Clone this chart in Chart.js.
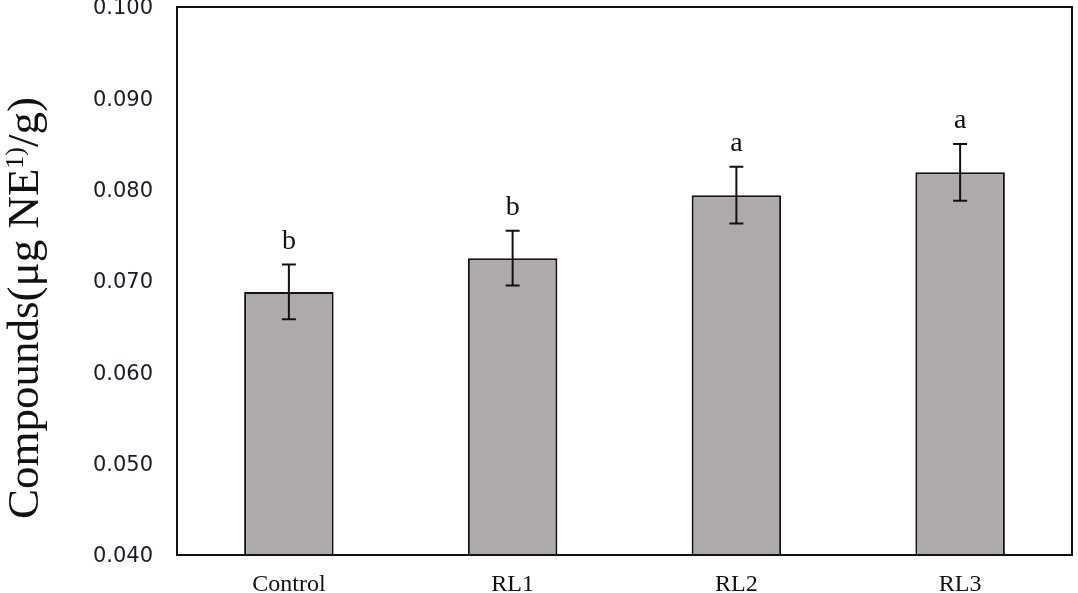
<!DOCTYPE html>
<html>
<head>
<meta charset="utf-8">
<script src="https://cdn.jsdelivr.net/npm/chart.js@4/dist/chart.umd.min.js"></script>
<style>
  html, body { margin: 0; padding: 0; background: #fff; }
  canvas { display: block; }
</style>
</head>
<body>
<canvas id="grafica" width="1078" height="593"></canvas>
<script>
const categorias = ['Control', 'RL1', 'RL2', 'RL3'];
const valores = [0.0688, 0.0725, 0.0794, 0.0819];
const errores = [0.0030, 0.0030, 0.0031, 0.0031];
const letras = ['b', 'b', 'a', 'a'];
const ticksY = [0.040, 0.050, 0.060, 0.070, 0.080, 0.090, 0.100];

// marco del area de trazado
const marcoPlugin = {
    id: 'marco',
    afterDatasetsDraw(chart) {
        const { ctx, chartArea: a } = chart;
        ctx.save();
        ctx.strokeStyle = '#111';
        ctx.lineWidth = 2;
        ctx.strokeRect(a.left, a.top, a.right - a.left, a.bottom - a.top);
        ctx.restore();
    }
};

// barras de error y letras de significancia
const erroresPlugin = {
    id: 'errores',
    afterDatasetsDraw(chart) {
        const { ctx, scales } = chart;
        const meta = chart.getDatasetMeta(0);
        ctx.save();
        ctx.strokeStyle = '#111';
        ctx.lineWidth = 2;
        meta.data.forEach((bar, i) => {
            const x = bar.x;
            const yTop = scales.y.getPixelForValue(valores[i] + errores[i]);
            const yBot = scales.y.getPixelForValue(valores[i] - errores[i]);
            ctx.beginPath();
            ctx.moveTo(x, yTop); ctx.lineTo(x, yBot);
            ctx.moveTo(x - 7, yTop); ctx.lineTo(x + 7, yTop);
            ctx.moveTo(x - 7, yBot); ctx.lineTo(x + 7, yBot);
            ctx.stroke();

            ctx.fillStyle = '#111';
            ctx.font = '28px "Liberation Serif", serif';
            ctx.textAlign = 'center';
            ctx.textBaseline = 'alphabetic';
            ctx.fillText(letras[i], x, yTop - 16);
        });
        ctx.restore();
    }
};

// titulo del eje Y con superindice
const tituloYPlugin = {
    id: 'tituloY',
    afterDraw(chart) {
        const { ctx } = chart;
        const partes = [
            { t: 'Compounds(\u03bcg NE', sup: false },
            { t: '1)', sup: true },
            { t: '/g)', sup: false }
        ];
        const fNormal = '45px "Liberation Serif", serif';
        const fSup = '26px "Liberation Serif", serif';
        ctx.save();
        let total = 0;
        partes.forEach(p => {
            ctx.font = p.sup ? fSup : fNormal;
            p.w = ctx.measureText(p.t).width;
            total += p.w;
        });
        ctx.translate(38, 308);
        ctx.rotate(-Math.PI / 2);
        ctx.fillStyle = '#111';
        ctx.textBaseline = 'alphabetic';
        ctx.textAlign = 'left';
        let x = -total / 2;
        partes.forEach(p => {
            ctx.font = p.sup ? fSup : fNormal;
            ctx.fillText(p.t, x, p.sup ? -15 : 0);
            x += p.w;
        });
        ctx.restore();
    }
};

new Chart(document.getElementById('grafica'), {
    type: 'bar',
    data: {
        labels: categorias,
        datasets: [{
            data: valores,
            backgroundColor: '#aeaaa9',
            borderColor: '#111',
            borderWidth: 2,
            borderSkipped: false,
            categoryPercentage: 1,
            barPercentage: 0.4
        }]
    },
    options: {
        responsive: false,
        animation: false,
        layout: { padding: { top: 7, right: 6, left: 0, bottom: 0 } },
        plugins: {
            legend: { display: false },
            tooltip: { enabled: false }
        },
        scales: {
            x: {
                grid: { display: false, drawTicks: false },
                border: { display: false },
                ticks: {
                    color: '#111',
                    padding: 15,
                    font: { family: '"Liberation Serif", serif', size: 24 }
                },
                afterFit(scale) { scale.height = 38; }
            },
            y: {
                min: 0.04,
                max: 0.1,
                grid: { display: false, drawTicks: false },
                border: { display: false },
                afterBuildTicks(scale) {
                    scale.ticks = ticksY.map(v => ({ value: v }));
                },
                ticks: {
                    color: '#1a1a2a',
                    padding: 24,
                    labelOffset: 2,
                    font: { family: '"DejaVu Sans", sans-serif', size: 21 },
                    callback: v => v.toFixed(3)
                },
                afterFit(scale) {
                    scale.width = 177;
                    scale.paddingTop = 0;
                    scale.paddingBottom = 0;
                }
            }
        }
    },
    plugins: [marcoPlugin, erroresPlugin, tituloYPlugin]
});
</script>
</body>
</html>
